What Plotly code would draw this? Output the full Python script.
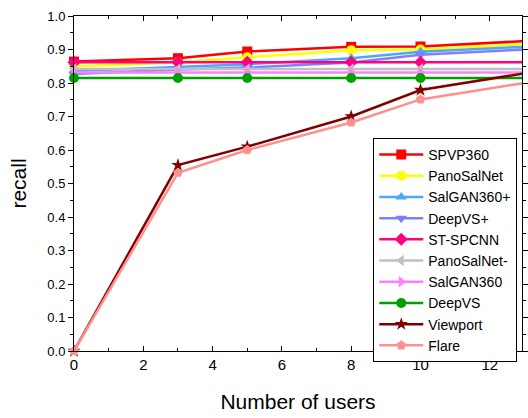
import plotly.graph_objects as go

users = [0, 3, 5, 8, 10, 13]

names = ["SPVP360", "PanoSalNet", "SalGAN360+", "DeepVS+", "ST-SPCNN",
         "PanoSalNet-", "SalGAN360", "DeepVS", "Viewport", "Flare"]

spvp360 = [0.864, 0.874, 0.894, 0.908, 0.909, 0.925]
panosalnet = [0.849, 0.862, 0.877, 0.898, 0.900, 0.915]
salgan360_plus = [0.836, 0.849, 0.856, 0.874, 0.893, 0.908]
deepvs_plus = [0.827, 0.840, 0.846, 0.861, 0.884, 0.900]
st_spcnn = [0.862, 0.862, 0.862, 0.862, 0.862, 0.862]
panosalnet_minus = [0.842, 0.842, 0.842, 0.842, 0.842, 0.842]
salgan360 = [0.831, 0.831, 0.831, 0.831, 0.831, 0.831]
deepvs = [0.815, 0.815, 0.815, 0.815, 0.815, 0.815]
viewport = [0.0, 0.555, 0.610, 0.700, 0.779, 0.829]
flare = [0.0, 0.532, 0.600, 0.682, 0.751, 0.800]

series = [spvp360, panosalnet, salgan360_plus, deepvs_plus, st_spcnn,
          panosalnet_minus, salgan360, deepvs, viewport, flare]

colors = ["#FF0000", "#FFFF00", "#4DA6FF", "#8080FF", "#FF0080",
          "#C0C0C0", "#FF80FF", "#00A000", "#800000", "#FF9090"]
symbols = ["square", "circle", "triangle-up", "triangle-down", "diamond",
           "triangle-left", "triangle-right", "circle", "star", "pentagon"]

fig = go.Figure()
for n, ys, c, s in zip(names, series, colors, symbols):
    fig.add_trace(go.Scatter(
        x=users, y=ys, name=n, mode="lines+markers",
        line=dict(color=c, width=2.5),
        marker=dict(symbol=s, size=10, color=c),
        cliponaxis=False,
    ))

font_family = "Arial"

fig.update_layout(
    width=528, height=418,
    margin=dict(l=74, r=0, t=16, b=67),
    paper_bgcolor="white", plot_bgcolor="white",
    font=dict(family=font_family, color="black", size=14),
    showlegend=True,
    legend=dict(
        x=0.668, y=0.636, xanchor="left", yanchor="top",
        bgcolor="white", bordercolor="black", borderwidth=1,
        font=dict(size=14, family=font_family, color="black"),
        tracegroupgap=0, itemwidth=44,
    ),
    xaxis=dict(
        range=[0, 12.93], tickmode="linear", tick0=0, dtick=2,
        showline=True, linecolor="black", linewidth=1, mirror="ticks",
        ticks="inside", ticklen=5, tickcolor="black",
        minor=dict(dtick=1, ticks="inside", ticklen=3, tickcolor="black"),
        showgrid=False, zeroline=False,
        tickfont=dict(size=15),
        title=dict(text="Number of users", font=dict(size=21), standoff=22),
    ),
    yaxis=dict(
        range=[0, 1.0], tickmode="linear", tick0=0, dtick=0.1,
        tickformat=".1f",
        showline=True, linecolor="black", linewidth=1, mirror="ticks",
        ticks="outside", ticklen=5, tickcolor="black",
        minor=dict(dtick=0.05, ticks="outside", ticklen=3, tickcolor="black"),
        showgrid=False, zeroline=False,
        tickfont=dict(size=13),
        title=dict(text="recall", font=dict(size=21), standoff=14),
    ),
)

fig.write_html("out.html")
